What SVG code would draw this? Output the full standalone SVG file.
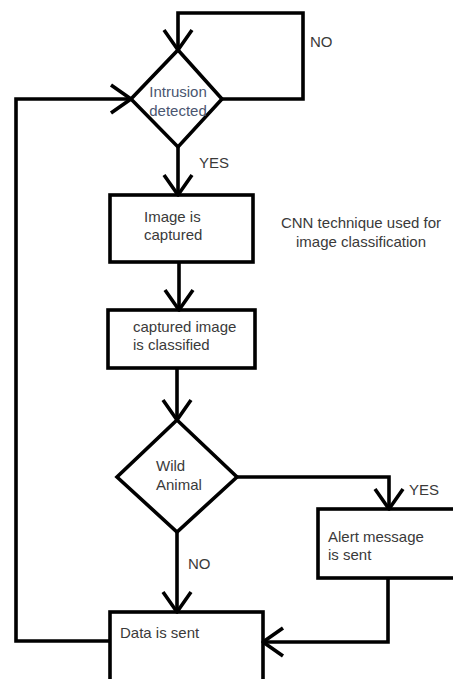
<svg xmlns="http://www.w3.org/2000/svg" width="453" height="679" viewBox="0 0 453 679">
<style>
.s{fill:#fff;stroke:#000;stroke-width:3.6;stroke-linejoin:miter}
.c{fill:none;stroke:#000;stroke-width:3.6}
.t{font-family:"Liberation Sans",Arial,sans-serif;font-size:15px;fill:#3a3a3a}
.b{fill:#4a5670}
</style>
<defs>
<marker id="ah" markerUnits="userSpaceOnUse" viewBox="-24 -18 28 36" markerWidth="28" markerHeight="36" refX="0" refY="0" orient="auto">
<path d="M-20,-14 L0,0 L-20,14" fill="none" stroke="#000" stroke-width="3.6" stroke-linejoin="round" stroke-linecap="butt"/>
</marker>
</defs>
<rect width="453" height="679" fill="#fff"/>
<g id="n1">
<polygon class="s" points="178,50 222,99 178,147 131,99"/>
<text class="t b" x="178" y="97" text-anchor="middle">Intrusion</text>
<text class="t b" x="178" y="116" text-anchor="middle">detected</text>
</g>
<g id="n2">
<rect class="s" x="110" y="195" width="143" height="67"/>
<text class="t" x="144" y="222">Image is</text>
<text class="t" x="144" y="240">captured</text>
</g>
<g id="note">
<text class="t" x="361" y="228" text-anchor="middle">CNN technique used for</text>
<text class="t" x="361" y="247" text-anchor="middle">image classification</text>
</g>
<g id="n3">
<rect class="s" x="108" y="310" width="147" height="58"/>
<text class="t" x="133" y="332">captured image</text>
<text class="t" x="133" y="350">is classified</text>
</g>
<g id="n4">
<polygon class="s" points="177,420 237,477 177,532 117,477"/>
<text class="t" x="156" y="471">Wild</text>
<text class="t" x="156" y="490">Animal</text>
</g>
<g id="n5">
<rect class="s" x="318" y="509" width="150" height="69"/>
<text class="t" x="328" y="542">Alert message</text>
<text class="t" x="328" y="560">is sent</text>
</g>
<g id="n6">
<rect class="s" x="110" y="612" width="153" height="80"/>
<text class="t" x="120" y="638">Data is sent</text>
</g>
<g id="connectors">
<path class="c" d="M222,99 H303 V13 H178 V50" marker-end="url(#ah)"/>
<path class="c" d="M178,147 V195" marker-end="url(#ah)"/>
<path class="c" d="M179,262 V310" marker-end="url(#ah)"/>
<path class="c" d="M177,368 V420" marker-end="url(#ah)"/>
<path class="c" d="M237,477 H389 V509" marker-end="url(#ah)"/>
<path class="c" d="M177,532 V612" marker-end="url(#ah)"/>
<path class="c" d="M388,578 V642 H263" marker-end="url(#ah)"/>
<path class="c" d="M110,641 H16 V99 H131" marker-end="url(#ah)"/>
<text class="t" x="310" y="47">NO</text>
<text class="t" x="199" y="168">YES</text>
<text class="t" x="409" y="495">YES</text>
<text class="t" x="188" y="569">NO</text>
</g>
</svg>
